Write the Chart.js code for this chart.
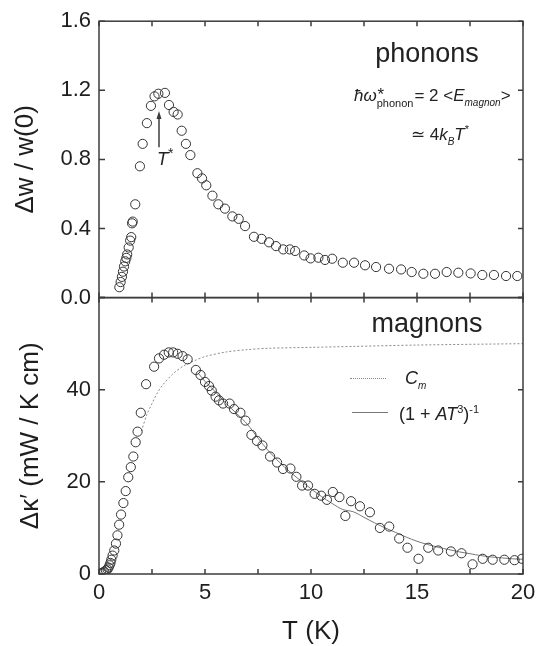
<!DOCTYPE html>
<html lang="en">
<head>
<meta charset="utf-8">
<title>Phonons and magnons</title>
<script src="https://cdn.jsdelivr.net/npm/chart.js@4.4.1/dist/chart.umd.min.js"></script>
<style>
  html, body { margin: 0; background: #fff; }
  #wrap { position: relative; width: 549px; height: 646px; font-family: "Liberation Sans", Arial, sans-serif; color: #222; }
  #wrap canvas { position: absolute; left: 0; top: 0; }
  .note { position: absolute; white-space: nowrap; line-height: 1; }
  .big { font-size: 27px; transform: translate(-50%, -50%); }
  .eq { font-size: 17px; transform: translateY(-50%); }
  .ss { display: inline-flex; flex-direction: column; vertical-align: middle; line-height: 1; margin-right: 1px; }
  .ss .up { font-size: 17px; height: 10px; font-style: italic; }
  .ss .dn { font-size: 11px; margin-top: 2px; }
  .lo { font-size: 10px; vertical-align: -5px; }
  .hi { font-size: 11px; vertical-align: 7px; }
  .sample { position: absolute; width: 36px; height: 0; }
</style>
</head>
<body>
<div id="wrap">
  <canvas id="chart" width="549" height="646"></canvas>

  <div class="note big" style="left:427px; top:53px;">phonons</div>
  <div class="note eq" style="left:354px; top:97px;"><i>ħω</i><span class="ss"><span class="up">*</span><span class="dn">phonon</span></span>= 2 &lt;<i>E</i><i class="lo">magnon</i>&gt;</div>
  <div class="note eq" style="left:411px; top:135px;">≃ 4<i>k</i><i class="lo">B</i><i>T</i><span class="hi">*</span></div>
  <div class="note eq" style="left:157px; top:157px; font-size:18px;"><i>T</i><span class="hi" style="font-size:14px;">*</span></div>

  <div class="note big" style="left:427px; top:323px;">magnons</div>
  <div class="sample" style="left:350px; top:378px; border-top:1px dotted #888;"></div>
  <div class="note eq" style="left:405px; top:380px; font-size:18px;"><i>C</i><i class="lo">m</i></div>
  <div class="sample" style="left:352px; top:412px; border-top:1px solid #777;"></div>
  <div class="note eq" style="left:399px; top:413px; font-size:18px;">(1 + <i>AT</i><span class="hi">3</span>)<span class="hi">-1</span></div>
</div>

<script>
// top panel: phonon part, dw / w(0)
var phononT = [0.96, 1.02, 1.08, 1.13, 1.18, 1.24, 1.29, 1.33, 1.40, 1.47, 1.52, 1.56, 1.59, 1.71,
	1.93, 2.06, 2.26, 2.45, 2.62, 2.80, 3.11, 3.30, 3.52, 3.71, 3.90, 4.10, 4.31, 4.64, 4.86, 5.06,
	5.35, 5.63, 5.94, 6.29, 6.59, 6.89, 7.31, 7.67, 8.02, 8.35, 8.69, 9.00, 9.25, 9.68, 9.98, 10.35,
	10.66, 11.0, 11.5, 12.03, 12.55, 13.07, 13.68, 14.25, 14.75, 15.3, 15.85, 16.4, 16.95, 17.53,
	18.08, 18.63, 19.2, 19.73]
var phononW = [0.06, 0.09, 0.12, 0.15, 0.18, 0.21, 0.23, 0.25, 0.29, 0.33, 0.35, 0.43, 0.44, 0.54,
	0.76, 0.89, 1.01, 1.11, 1.165, 1.18, 1.185, 1.115, 1.075, 1.06, 0.966, 0.89, 0.825, 0.72, 0.69, 0.65,
	0.59, 0.54, 0.515, 0.47, 0.456, 0.414, 0.352, 0.34, 0.32, 0.298, 0.279, 0.279, 0.27, 0.244, 0.227, 0.231,
	0.218, 0.225, 0.202, 0.202, 0.187, 0.177, 0.167, 0.163, 0.148, 0.138, 0.138, 0.148, 0.144, 0.14,
	0.131, 0.131, 0.125, 0.125]

// bottom panel: magnon part, dk' (mW / K cm)
var magnonT = [0.10, 0.18, 0.25, 0.33, 0.40, 0.45, 0.50, 0.54, 0.58, 0.64, 0.72, 0.80, 0.87, 0.95,
	1.04, 1.15, 1.26, 1.38, 1.50, 1.62, 1.73, 1.82, 1.97, 2.22, 2.60, 2.83, 3.07, 3.29, 3.50, 3.71,
	3.94, 4.18, 4.57, 4.79, 5.00, 5.19, 5.32, 5.50, 5.66, 5.85, 6.16, 6.37, 6.67, 6.91, 7.19, 7.45,
	7.71, 8.07, 8.40, 8.68, 9.03, 9.31, 9.58, 9.86, 10.17, 10.48, 10.75, 11.03, 11.34, 11.62, 11.89,
	12.31, 12.78, 13.25, 13.69, 14.16, 14.55, 15.07, 15.53, 16.00, 16.60, 17.10, 17.62, 18.10, 18.57,
	19.12, 19.60, 19.95]
var magnonK = [0.2, 0.3, 0.5, 0.8, 1.0, 1.4, 1.9, 2.4, 3.1, 4.0, 5.1, 6.6, 8.4, 10.7,
	12.9, 15.4, 18.0, 21.0, 23.2, 25.5, 28.6, 30.9, 35.0, 41.2, 45.0, 46.8, 47.6, 48.1, 48.1, 47.8,
	47.3, 46.6, 44.3, 43.2, 41.7, 40.8, 39.8, 38.5, 37.7, 37.0, 37.0, 35.8, 35.0, 33.3, 30.2, 28.9,
	27.9, 25.5, 24.2, 22.8, 22.9, 21.1, 19.2, 19.2, 17.4, 17.0, 16.1, 17.8, 16.7, 12.6, 15.8,
	14.7, 13.4, 10.0, 10.3, 7.7, 5.7, 3.3, 5.7, 5.1, 4.9, 4.5, 2.1, 3.3, 3.1,
	3.1, 3.0, 3.3]

// C_m curve (dotted)
var cmT = [2.0, 2.25, 2.5, 2.75, 3.0, 3.5, 4.0, 4.5, 5.0, 6.0, 7.0, 8.0, 10, 12, 15, 20]
var cmK = [31, 34.5, 37, 39.3, 41, 43.5, 45.2, 46.3, 47.2, 48.2, 48.7, 49.0, 49.2, 49.4, 49.7, 50.0]

// (1 + A T^3)^-1 curve (solid)
var fitT = [4.7, 5.0, 5.5, 6.0, 6.5, 7.0, 7.5, 8.0, 8.5, 9.0, 9.5, 10.0, 10.5, 11.0, 11.5, 12.0,
	12.5, 13.0, 13.5, 14.0, 14.5, 15.0, 15.5, 16.0, 16.5, 17.0, 17.5, 18.0, 18.5, 19.0, 19.5, 20.0]
var fitK = [43.5, 41.8, 39.5, 37.0, 34.8, 32.5, 29.5, 26.7, 24.3, 22.2, 20.3, 18.5, 16.8, 15.3, 14.0, 13.5,
	12.3, 11.1, 10.0, 9.0, 8.0, 7.1, 6.4, 5.8, 5.3, 4.8, 4.4, 4.0, 3.7, 3.5, 3.3, 3.2]

// T* arrow: position and span in the top panel
var starT = 2.83
var starFrom = 0.87
var starTo = 1.08

function pairs(xs, ys) {
	return xs.map(function (v, i) { return { x: v, y: ys[i] } })
}

Chart.defaults.font.family = '"Liberation Sans", Arial, sans-serif'
Chart.defaults.color = '#1e1e1e'

var framePlugin = {
	id: 'frame',
	afterDatasetsDraw(chart) {
		var ctx = chart.ctx
		var x = chart.scales.x
		var yTop = chart.scales.yTop
		ctx.save()
		ctx.strokeStyle = '#3c3c3c'
		ctx.lineWidth = 1.5
		;[yTop, chart.scales.yBot].forEach(function (ys) {
			var top = ys.top, bottom = ys.bottom, left = x.left, right = x.right
			ctx.strokeRect(left, top, right - left, bottom - top)
			ctx.beginPath()
			x.ticks.forEach(function (t) {
				var px = x.getPixelForValue(t.value)
				ctx.moveTo(px, top); ctx.lineTo(px, top + 5)
				ctx.moveTo(px, bottom); ctx.lineTo(px, bottom - 5)
			})
			ys.ticks.forEach(function (t) {
				var py = ys.getPixelForValue(t.value)
				ctx.moveTo(left, py); ctx.lineTo(left + 6, py)
				ctx.moveTo(right, py); ctx.lineTo(right - 5, py)
			})
			ctx.stroke()
		})
		// arrow pointing at the peak
		var ax = x.getPixelForValue(starT)
		var y0 = yTop.getPixelForValue(starFrom)
		var y1 = yTop.getPixelForValue(starTo)
		ctx.beginPath()
		ctx.moveTo(ax, y0); ctx.lineTo(ax, y1 + 6)
		ctx.stroke()
		ctx.fillStyle = '#3c3c3c'
		ctx.beginPath()
		ctx.moveTo(ax, y1); ctx.lineTo(ax - 2.5, y1 + 8); ctx.lineTo(ax + 2.5, y1 + 8)
		ctx.closePath()
		ctx.fill()
		ctx.restore()
	}
}

var circleStyle = {
	showLine: false,
	pointStyle: 'circle',
	pointRadius: 4.6,
	pointBorderWidth: 1,
	pointBorderColor: '#333',
	pointBackgroundColor: 'rgba(0,0,0,0)'
}

var chart = new Chart('chart', {
	type: 'scatter',
	data: {
		datasets: [
			Object.assign({ label: 'phonons', data: pairs(phononT, phononW), yAxisID: 'yTop' }, circleStyle),
			Object.assign({ label: 'magnons', data: pairs(magnonT, magnonK), yAxisID: 'yBot' }, circleStyle),
			{
				label: 'C_m', data: pairs(cmT, cmK), yAxisID: 'yBot', showLine: true,
				borderColor: '#8a8a8a', borderWidth: 1, borderDash: [2, 2], pointRadius: 0, tension: 0.3
			},
			{
				label: 'fit', data: pairs(fitT, fitK), yAxisID: 'yBot', showLine: true,
				borderColor: '#777', borderWidth: 1, pointRadius: 0, tension: 0.3
			}
		]
	},
	options: {
		responsive: false,
		animation: false,
		devicePixelRatio: 1,
		layout: { padding: { top: 19, right: 26, left: 0, bottom: 0 } },
		plugins: { legend: { display: false }, tooltip: { enabled: false } },
		scales: {
			x: {
				type: 'linear', position: 'bottom', min: 0, max: 20,
				grid: { display: false, drawTicks: false },
				border: { display: false },
				ticks: {
					stepSize: 2.5, autoSkip: false, maxRotation: 0, padding: 6,
					font: { size: 22 },
					callback: function (v) { return v % 5 === 0 ? String(v) : '' }
				},
				title: { display: true, text: 'T (K)', font: { size: 26, lineHeight: 1 }, padding: { top: 0, bottom: 1 } },
				afterFit: function (s) { s.height = 72 }
			},
			yBot: {
				type: 'linear', position: 'left', stack: 'panels', stackWeight: 1, min: 0, max: 60,
				grid: { display: false, drawTicks: false },
				border: { display: false },
				ticks: {
					stepSize: 10, padding: 8, font: { size: 22 },
					callback: function (v) { return (v % 20 === 0 && v < 60) ? String(v) : '' }
				},
				title: { display: true, text: 'Δκ′ (mW / K cm)', font: { size: 26 }, padding: { top: 15, bottom: 0 } },
				afterFit: function (s) { s.width = 99 }
			},
			yTop: {
				type: 'linear', position: 'left', stack: 'panels', stackWeight: 1, min: 0, max: 1.6,
				grid: { display: false, drawTicks: false },
				border: { display: false },
				ticks: {
					stepSize: 0.4, padding: 8, font: { size: 22 },
					callback: function (v) { return v.toFixed(1) }
				},
				title: { display: true, text: 'Δw / w(0)', font: { size: 26 }, padding: { top: 10, bottom: 0 } },
				afterFit: function (s) { s.width = 99 }
			}
		}
	},
	plugins: [framePlugin]
})
</script>
</body>
</html>
